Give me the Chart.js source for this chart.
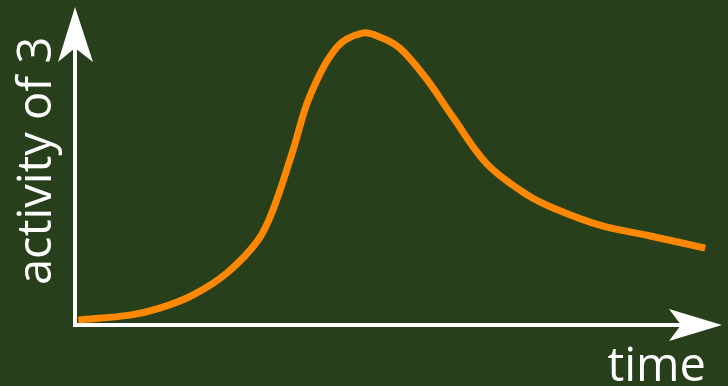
<!DOCTYPE html>
<html>
<head>
<meta charset="utf-8">
<style>
  html, body { margin: 0; padding: 0; background: #27401b; }
  #wrap { width: 728px; height: 386px; position: relative; }
</style>
<script src="https://cdn.jsdelivr.net/npm/chart.js@4/dist/chart.umd.min.js"></script>
</head>
<body>
<div id="wrap"><canvas id="chartActivity"></canvas></div>
<script>
(function () {
    'use strict';

    // time (0-100) and activity (0-100)
    var time = [0.5, 8.5, 13.1, 18.2, 23.5, 28.3, 30.6, 33.7, 36.3, 40.5, 44.4, 47.1, 50.2, 54.1, 58.4, 63.7, 69.9, 73.9, 81.1, 88.9, 97.4];
    var activity = [1.6, 3.1, 5.3, 9.4, 16.4, 26.7, 36.2, 55.0, 72.0, 87.4, 91.8, 90.6, 87.1, 78.0, 65.4, 50.6, 40.9, 36.8, 31.4, 28.0, 24.2];
    var xLabel = 'time';
    var yLabel = 'activity of 3';

    var orange = '#ff8800';
    var white = '#ffffff';

    var points = time.map(function (t, i) { return { x: t, y: activity[i] }; });

    // white axes with arrow heads plus the two labels
    var axesPlugin = {
        id: 'arrowAxes',
        beforeDatasetsDraw: function (chart) {
            var ctx = chart.ctx;
            var a = chart.chartArea;
            ctx.save();
            ctx.strokeStyle = white;
            ctx.fillStyle = white;
            ctx.lineWidth = 4;
            ctx.beginPath();
            ctx.moveTo(a.left, a.top + 40);
            ctx.lineTo(a.left, a.bottom);
            ctx.lineTo(a.right - 40, a.bottom);
            ctx.stroke();

            ctx.beginPath();
            ctx.moveTo(a.left, a.top);
            ctx.lineTo(a.left - 17, a.top + 55);
            ctx.lineTo(a.left, a.top + 41);
            ctx.lineTo(a.left + 18, a.top + 55);
            ctx.closePath();
            ctx.fill();

            ctx.beginPath();
            ctx.moveTo(a.right, a.bottom);
            ctx.lineTo(a.right - 53, a.bottom - 16);
            ctx.lineTo(a.right - 41, a.bottom);
            ctx.lineTo(a.right - 53, a.bottom + 16);
            ctx.closePath();
            ctx.fill();

            ctx.font = '47px "Open Sans", "Noto Sans", sans-serif';
            ctx.textBaseline = 'alphabetic';
            ctx.textAlign = 'right';
            ctx.fillText(xLabel, a.right - 16, a.bottom + 56);

            ctx.translate(a.left - 24, a.bottom - 40);
            ctx.rotate(-Math.PI / 2);
            ctx.textAlign = 'left';
            ctx.fillText(yLabel, 0, 0);
            ctx.restore();
        }
    };

    new Chart(document.getElementById('chartActivity'), {
        type: 'line',
        data: {
            datasets: [{
                data: points,
                borderColor: orange,
                borderWidth: 7,
                tension: 0.35,
                pointRadius: 0,
                fill: false,
                borderCapStyle: 'butt'
            }]
        },
        options: {
            responsive: true,
            maintainAspectRatio: false,
            animation: false,
            layout: { padding: { left: 75, right: 6, top: 7, bottom: 61 } },
            plugins: { legend: { display: false }, tooltip: { enabled: false } },
            scales: {
                x: { type: 'linear', min: 0, max: 100, display: false },
                y: { min: 0, max: 100, display: false }
            }
        },
        plugins: [axesPlugin]
    });
})();
</script>
</body>
</html>
